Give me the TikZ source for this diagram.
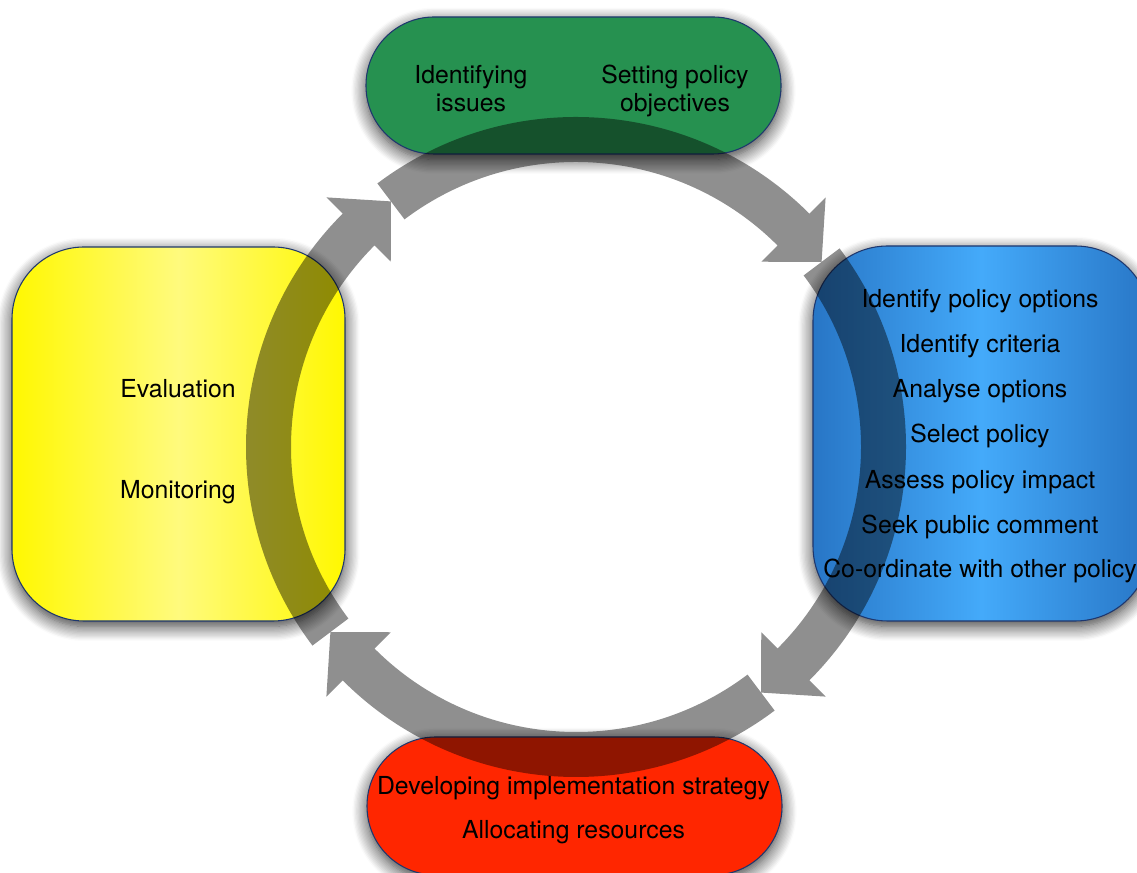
\documentclass[tikz,border=0pt]{standalone}
\usepackage{fontspec}
\setmainfont{TeX Gyre Heros}
\usetikzlibrary{calc,shadows.blur}
\definecolor{gfill}{RGB}{38,145,80}
\definecolor{rfill}{RGB}{255,38,0}
\definecolor{ydark}{RGB}{255,248,0}
\definecolor{ylight}{RGB}{255,250,125}
\definecolor{bdark}{RGB}{40,118,198}
\definecolor{blight}{RGB}{68,170,250}
\definecolor{bordc}{RGB}{30,55,110}
\begin{document}
\begin{tikzpicture}[x=0.75pt,y=0.75pt,
  box/.style={draw=bordc, line width=0.8pt, inner sep=0pt, outer sep=0pt,
    blur shadow={shadow xshift=0pt,shadow yshift=-4pt,shadow blur radius=11pt,shadow opacity=80,shadow blur steps=12}},
  lbl/.style={anchor=base, inner sep=0pt, font=\fontsize{18.6}{22}\selectfont, text=black},
  ringarrow/.style={fill=black, fill opacity=0.44, draw=none}]
\useasboundingbox (0,0) rectangle (1137,873);
% boxes
\node[box, fill=gfill, minimum width=311.25pt, minimum height=102.75pt, rounded corners=51pt] (topbox) at (573.5,787.5) {};
\node[box, fill=rfill, minimum width=311.25pt, minimum height=103.5pt, rounded corners=51.5pt] (botbox) at (574.5,67) {};
\node[box, left color=ydark, right color=ydark, middle color=ylight, minimum width=249.75pt, minimum height=280.5pt, rounded corners=54pt] (leftbox) at (178.5,439) {};
\node[box, left color=bdark, right color=bdark, middle color=blight, minimum width=252.75pt, minimum height=281.25pt, rounded corners=56pt] (rightbox) at (981.5,439.5) {};
% ring of arrows
\coordinate (C) at (576,426);
\foreach \t in {127,37,-53,-143}{
  \pgfmathsetmacro{\b}{\t-82}
  \pgfmathsetmacro{\p}{\t-90}
  \fill[ringarrow] ($(C)+(\t:330)$) arc[start angle=\t, end angle=\b, radius=330]
     -- ($(C)+(\b:353)$) -- ($(C)+(\p:307.5)$) -- ($(C)+(\b:262)$) -- ($(C)+(\b:285)$)
     arc[start angle=\b, end angle=\t, radius=285] -- cycle;
}
% texts
\node[lbl] (t1a) at (471,789) {Identifying};
\node[lbl] (t1b) at (471,761) {issues};
\node[lbl] (t2a) at (675,789) {Setting policy};
\node[lbl] (t2b) at (675,761) {objectives};
\node[lbl] (r1) at (980,565) {Identify policy options};
\node[lbl] (r2) at (980,520) {Identify criteria};
\node[lbl] (r3) at (980,475) {Analyse options};
\node[lbl] (r4) at (980,430) {Select policy};
\node[lbl] (r5) at (980,384) {Assess policy impact};
\node[lbl] (r6) at (980,339) {Seek public comment};
\node[lbl] (r7) at (980,295) {Co-ordinate with other policy};
\node[lbl] (l1) at (178,475) {Evaluation};
\node[lbl] (l2) at (178,374) {Monitoring};
\node[lbl] (b1) at (573.5,78) {Developing implementation strategy};
\node[lbl] (b2) at (573.5,34) {Allocating resources};
\end{tikzpicture}
\end{document}
